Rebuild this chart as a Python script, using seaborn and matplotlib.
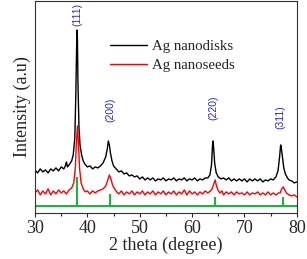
import numpy as np
import pandas as pd
import matplotlib
matplotlib.use('Agg')
import matplotlib.pyplot as plt
from matplotlib.ticker import MultipleLocator
import seaborn as sns

# XRD patterns (intensity in arbitrary units)
disk_theta = [30.0, 30.5, 31.0, 31.5, 32.0, 32.5, 33.0, 33.5, 34.0, 34.5, 35.0, 35.5, 35.8, 36.0, 36.2, 36.5,
              37.0, 37.3, 37.6, 37.8, 38.0, 38.1, 38.2, 38.4, 38.6, 38.9, 39.2, 39.5, 40.0, 40.5, 41.0, 41.5,
              42.0, 42.5, 43.0, 43.5, 43.8, 44.0, 44.2, 44.4, 44.7, 45.0, 45.5,
              46.0, 46.5, 47.0, 47.5, 48.0, 48.5, 49.0, 49.5, 50.0, 50.5, 51.0, 51.5, 52.0, 52.5, 53.0, 53.5,
              54.0, 54.5, 55.0, 55.5, 56.0, 56.5, 57.0, 57.5, 58.0, 58.5, 59.0, 59.5, 60.0, 60.5, 61.0, 61.5,
              62.0, 62.5, 63.0, 63.4, 63.7, 63.9, 64.0, 64.1, 64.3, 64.6,
              65.0, 65.5, 66.0, 66.5, 67.0, 67.5, 68.0, 68.5, 69.0, 69.5, 70.0, 70.5, 71.0, 71.5, 72.0, 72.5,
              73.0, 73.5, 74.0, 74.5, 75.0, 75.5, 76.0, 76.4, 76.7, 76.9, 77.0, 77.2, 77.5, 77.8, 78.2, 78.5,
              79.0, 79.5, 80.0]
disk_int = [43, 40, 44, 41, 43, 40, 44, 42, 45, 42, 46, 44, 47, 51, 46, 48,
            52, 58, 75, 120, 183, 175, 130, 85, 68, 58, 52, 49, 46, 47, 44, 46,
            45, 47, 50, 56, 64, 72, 68, 60, 52, 47, 44,
            41, 42, 39, 40, 37, 38, 36, 37, 34, 36, 33, 35, 33, 35, 32, 34,
            33, 35, 32, 34, 33, 35, 32, 34, 33, 35, 32, 34, 33, 35, 32, 34,
            33, 35, 35, 38, 48, 68, 72, 66, 50, 40,
            36, 34, 35, 33, 35, 32, 34, 32, 34, 32, 34, 31, 34, 32, 34, 32,
            34, 31, 33, 32, 34, 33, 36, 42, 56, 68, 66, 58, 45, 39, 35, 33,
            32, 30, 31]

seed_theta = [30.0, 30.5, 31.0, 31.5, 32.0, 32.5, 33.0, 33.5, 34.0, 34.5, 35.0, 35.5, 36.0, 36.5,
              37.0, 37.4, 37.7, 37.9, 38.1, 38.3, 38.5, 38.8, 39.2, 39.6, 40.0, 40.5, 41.0, 41.5, 42.0, 42.5,
              43.0, 43.5, 43.9, 44.2, 44.5, 44.8, 45.2, 45.6,
              46.0, 46.5, 47.0, 47.5, 48.0, 48.5, 49.0, 49.5, 50.0, 50.5, 51.0, 51.5, 52.0, 52.5, 53.0, 53.5,
              54.0, 54.5, 55.0, 55.5, 56.0, 56.5, 57.0, 57.5, 58.0, 58.5, 59.0, 59.5, 60.0, 60.5, 61.0, 61.5,
              62.0, 62.5, 63.0, 63.5, 63.8, 64.2, 64.4, 64.6, 64.9,
              65.3, 65.7, 66.0, 66.5, 67.0, 67.5, 68.0, 68.5, 69.0, 69.5, 70.0, 70.5, 71.0, 71.5, 72.0, 72.5,
              73.0, 73.5, 74.0, 74.5, 75.0, 75.5, 76.0, 76.5, 76.8, 77.1, 77.4, 77.7, 78.0, 78.5, 79.0, 79.5, 80.0]
seed_int = [20, 23, 18, 22, 19, 24, 18, 22, 19, 23, 20, 22, 19, 23,
            25, 30, 45, 70, 87, 70, 45, 30, 24, 21, 22, 19, 22, 20, 22, 23,
            24, 27, 33, 38, 34, 28, 24, 21,
            19, 22, 18, 21, 19, 22, 18, 21, 19, 22, 18, 21, 19, 22, 18, 21,
            19, 22, 18, 21, 19, 22, 18, 21, 19, 23, 18, 22, 19, 21, 18, 21,
            19, 22, 20, 22, 24, 30, 33, 28, 23,
            20, 22, 18, 21, 19, 21, 18, 21, 19, 20, 18, 21, 18, 20, 19, 21,
            18, 20, 18, 21, 18, 20, 18, 20, 20, 24, 26, 23, 20, 18, 17, 18, 16]

# reference pattern (sticks)
ref_theta = [38.1, 44.3, 64.4, 77.4]
ref_int = [36, 19, 16, 16]
ref_base = 7
hkl = ['(111)', '(200)', '(220)', '(311)']
hkl_x = [38.0, 44.4, 64.0, 76.8]
hkl_y = [199, 103, 105, 96]

disk = pd.DataFrame({'theta': disk_theta, 'I': disk_int})
seed = pd.DataFrame({'theta': seed_theta, 'I': seed_int})

sns.set_style('ticks')
plt.rcParams['font.family'] = ['Liberation Serif', 'DejaVu Serif']

fig = plt.figure(figsize=(3.07, 2.59), dpi=100)
ax = fig.add_axes([0.114, 0.178, 0.853, 0.818])

sns.lineplot(data=disk, x='theta', y='I', color='black', lw=1.0, estimator=None, sort=False,
             label='Ag nanodisks', ax=ax)
sns.lineplot(data=seed, x='theta', y='I', color='red', lw=1.0, estimator=None, sort=False,
             label='Ag nanoseeds', ax=ax)
ax.hlines(ref_base, 30, 80, color='#1db33c', lw=1.5)
ax.vlines(ref_theta, ref_base, ref_int, color='#1db33c', lw=1.5)

for lab, xx, yy in zip(hkl, hkl_x, hkl_y):
    ax.text(xx, yy, lab, rotation=90, ha='center', va='center', color='#2a2acf',
            fontsize=7.5, family='Liberation Sans')

ax.set_xlim(30, 80)
ax.set_ylim(0, 212)
ax.set_yticks([])
ax.xaxis.set_major_locator(MultipleLocator(10))
ax.xaxis.set_minor_locator(MultipleLocator(5))
ax.tick_params(axis='x', which='major', length=3, width=0.8, labelsize=13, pad=2)
ax.tick_params(axis='x', which='minor', length=2, width=0.8)
for sp in ax.spines.values():
    sp.set_linewidth(0.8)
    sp.set_color('#333333')
ax.set_xlabel('2 theta (degree)', fontsize=13, labelpad=0)
ax.set_ylabel('Intensity (a.u)', fontsize=13, labelpad=3)

ax.legend(loc='upper left', bbox_to_anchor=(0.265, 0.845), frameon=False, fontsize=10.7,
          handlelength=2.5, handletextpad=0.3, labelspacing=0.35, borderaxespad=0)

fig.savefig('out.png', dpi=100)
